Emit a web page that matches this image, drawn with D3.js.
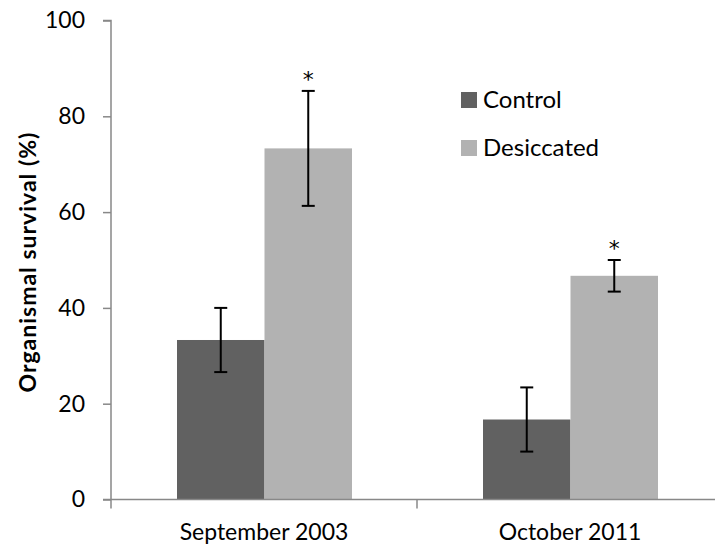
<!DOCTYPE html>
<html><head><meta charset="utf-8">
<script src="https://cdn.jsdelivr.net/npm/d3@7"></script>
<style>body{margin:0;background:#fff}svg{display:block}</style>
</head><body>
<script>
const categories = ["September 2003", "October 2011"];
const seriesNames = ["Control", "Desiccated"];
const controlValues = [33.3, 16.7];
const desiccatedValues = [73.3, 46.7];
const controlErrors = [6.7, 6.7];
const desiccatedErrors = [12.0, 3.3];
const significant = [false, true]; // per series: asterisk on desiccated
const yTicks = [0, 20, 40, 60, 80, 100];
const colors = ["#616161", "#b2b2b2"];

const W = 715, H = 548;
const svg = d3.select("body").append("svg").attr("width", W).attr("height", H);
const font = "Lato, 'Open Sans', sans-serif";

const y = d3.scaleLinear().domain([0, 100]).range([499.5, 20.5]);
const x0 = d3.scaleBand().domain(categories).range([111, 723]).paddingInner(0).paddingOuter(0);
const x1 = d3.scaleBand().domain(seriesNames).range([66, 241]).paddingInner(0).paddingOuter(0);

const rows = categories.map((c, i) => ({
  cat: c,
  items: [
    {s: seriesNames[0], v: controlValues[i], e: controlErrors[i], sig: significant[0]},
    {s: seriesNames[1], v: desiccatedValues[i], e: desiccatedErrors[i], sig: significant[1]}
  ]
}));

const g = svg.append("g");
const grp = g.selectAll("g.cat").data(rows).enter().append("g")
  .attr("transform", d => `translate(${x0(d.cat)},0)`);

grp.selectAll("rect").data(d => d.items).enter().append("rect")
  .attr("x", d => x1(d.s)).attr("width", x1.bandwidth())
  .attr("y", d => y(d.v)).attr("height", d => y(0) - y(d.v))
  .attr("fill", (d, i) => colors[i]);

const eb = grp.selectAll("g.eb").data(d => d.items).enter().append("g")
  .attr("stroke", "#000").attr("stroke-width", 2);
const cx = d => x1(d.s) + x1.bandwidth() / 2;
eb.append("line").attr("x1", cx).attr("x2", cx)
  .attr("y1", d => y(d.v - d.e)).attr("y2", d => y(d.v + d.e));
eb.append("line").attr("x1", d => cx(d) - 6.5).attr("x2", d => cx(d) + 6.5)
  .attr("y1", d => y(d.v + d.e)).attr("y2", d => y(d.v + d.e));
eb.append("line").attr("x1", d => cx(d) - 6.5).attr("x2", d => cx(d) + 6.5)
  .attr("y1", d => y(d.v - d.e)).attr("y2", d => y(d.v - d.e));

grp.selectAll("text.star").data(d => d.items.filter(it => it.sig)).enter().append("text")
  .attr("x", cx).attr("y", d => y(d.v + d.e) - 4)
  .attr("text-anchor", "middle").attr("font-family", "'DejaVu Sans', sans-serif").attr("font-size", 22)
  .text("*");

// Y axis
const yAxis = d3.axisLeft(y).tickValues(yTicks).tickSize(8).tickPadding(18).tickFormat(d3.format("d"));
const ya = svg.append("g").attr("transform", "translate(111,0)").call(yAxis);
ya.select(".domain").attr("stroke", "#888").attr("stroke-width", 1.5).attr("d", `M-8,${y(100)}H0V${y(0)}`);
ya.selectAll(".tick line").attr("stroke", "#888").attr("stroke-width", 1.5);
ya.selectAll(".tick text").attr("font-family", font).attr("font-size", 23).attr("fill", "#000");

// X axis
const xa = svg.append("g").attr("transform", `translate(0,${y(0)})`);
xa.append("line").attr("x1", 103).attr("x2", 715).attr("y1", 0).attr("y2", 0)
  .attr("stroke", "#888").attr("stroke-width", 1.5);
const xTicks = [x0.range()[0], x0(categories[1])];
xa.selectAll("line.tk").data(xTicks).enter().append("line")
  .attr("x1", d => d).attr("x2", d => d).attr("y1", 0).attr("y2", 9)
  .attr("stroke", "#888").attr("stroke-width", 1.5);
xa.selectAll("text").data(categories).enter().append("text")
  .attr("x", d => x0(d) + x0.bandwidth() / 2).attr("y", 40)
  .attr("text-anchor", "middle").attr("font-family", font).attr("font-size", 23)
  .text(d => d);

// Y title
svg.append("text").attr("transform", "translate(36,262) rotate(-90)")
  .attr("text-anchor", "middle").attr("font-family", font).attr("font-weight", "bold")
  .attr("font-size", 23).attr("letter-spacing", 1).text("Organismal survival (%)");

// Legend
const lg = svg.append("g").selectAll("g").data(seriesNames).enter().append("g")
  .attr("transform", (d, i) => `translate(461,${92 + i * 48})`);
lg.append("rect").attr("width", 16).attr("height", 16).attr("fill", (d, i) => colors[i]);
lg.append("text").attr("x", 22).attr("y", 16).attr("font-family", font).attr("font-size", 24).text(d => d);
</script>
</body></html>
